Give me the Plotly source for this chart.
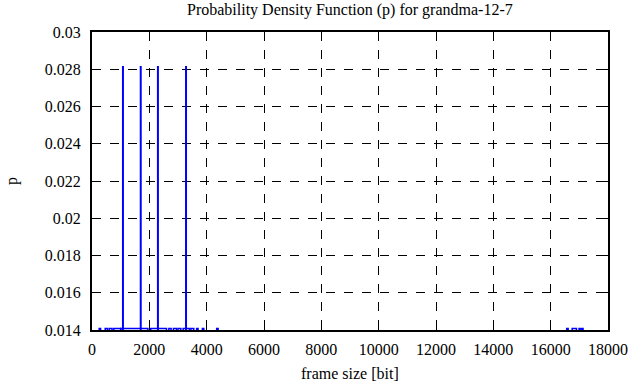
import plotly.graph_objects as go

# Frame-size bins (bit) where p = 1/71 (just above the lower axis limit)
low_start = [250, 460, 600, 760, 1000, 2050, 2680, 2840, 3000, 3180, 3450, 3650, 3850, 4350, 16560, 16750, 16990, 17080]
low_end   = [300, 540, 700, 1000, 1950, 2600, 2760, 2950, 3100, 3400, 3550, 3700, 3900, 4400, 16610, 16900, 17030, 17130]
low_p = 0.01408

# Frame sizes with p = 2/71
spike_x = [1080, 1700, 2300, 3280]
spike_p = [0.02817, 0.02817, 0.02817, 0.02817]

x_ticks = [0, 2000, 4000, 6000, 8000, 10000, 12000, 14000, 16000, 18000]
y_ticks = [0.014, 0.016, 0.018, 0.020, 0.022, 0.024, 0.026, 0.028, 0.030]
y_labels = ["0.014", "0.016", "0.018", "0.02", "0.022", "0.024", "0.026", "0.028", "0.03"]

lx, ly = [], []
for s, e in zip(low_start, low_end):
    lx += [s, s, e, e, None]
    ly += [0, low_p, low_p, 0, None]

sx, sy = [], []
for x, p in zip(spike_x, spike_p):
    sx += [x, x, None]
    sy += [0, p, None]

fig = go.Figure()
fig.add_trace(go.Scatter(x=lx, y=ly, mode="lines", line=dict(color="#0000ff", width=1.5),
                         showlegend=False, hoverinfo="skip"))
fig.add_trace(go.Scatter(x=sx, y=sy, mode="lines", line=dict(color="#0000ff", width=2),
                         showlegend=False))

font = "'Liberation Serif', 'Times New Roman', 'DejaVu Serif', serif"
axis_common = dict(showline=True, linecolor="black", linewidth=2, mirror="ticks",
                   ticks="inside", ticklen=7, tickcolor="black", tickwidth=1,
                   showgrid=True, gridcolor="black", gridwidth=1, griddash="dash",
                   zeroline=False, automargin=False,
                   tickfont=dict(family=font, size=16, color="black"))

fig.update_layout(
    width=636, height=387,
    margin=dict(l=92, r=28, t=32, b=57),
    paper_bgcolor="white", plot_bgcolor="white",
    font=dict(family=font, size=16, color="black"),
    xaxis=dict(range=[0, 18000], tickvals=x_ticks, ticktext=[str(v) for v in x_ticks],
               ticklabelstandoff=4, **axis_common),
    yaxis=dict(range=[0.014, 0.030], tickvals=y_ticks, ticktext=y_labels,
               ticklabelstandoff=6, **axis_common),
    annotations=[
        dict(text="Probability Density Function (p) for grandma-12-7", xref="paper", yref="paper",
             x=0.5, y=1, yshift=33, xanchor="center", yanchor="top", showarrow=False,
             font=dict(family=font, size=16, color="black")),
        dict(text="frame size [bit]", xref="paper", yref="paper",
             x=0.5, y=0, yshift=-33, xanchor="center", yanchor="top", showarrow=False,
             font=dict(family=font, size=16, color="black")),
        dict(text="p", xref="paper", yref="paper", textangle=-90,
             x=0, xshift=-80, y=0.5, xanchor="center", yanchor="middle", showarrow=False,
             font=dict(family=font, size=16, color="black")),
    ],
)

fig.write_html("out.html", config={"displayModeBar": False},
               post_script="document.body.style.margin='0';document.body.style.overflow='hidden';")
